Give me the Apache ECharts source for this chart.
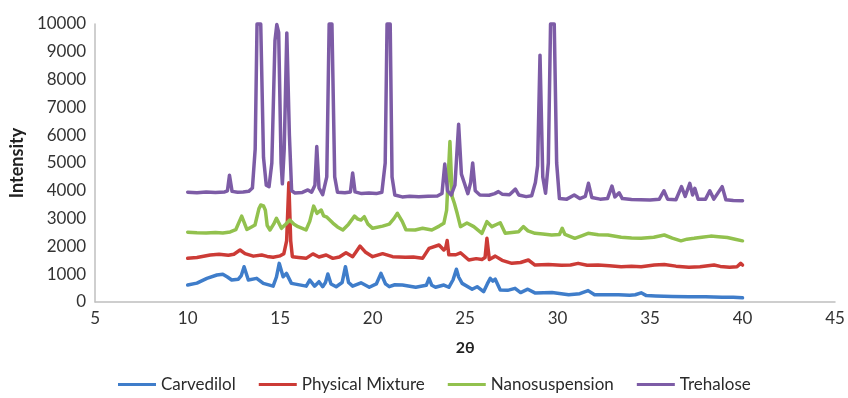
<!DOCTYPE html>
<html>
<head>
<meta charset="utf-8">
<script src="https://cdn.jsdelivr.net/npm/echarts@6/dist/echarts.min.js"></script>
<style>
  html, body { margin: 0; padding: 0; background: #fff; }
  #chart { width: 848px; height: 398px; }
</style>
</head>
<body>
<div id="chart"></div>
<script>
// series names (legend order)
const seriesNames = ['Carvedilol', 'Physical Mixture', 'Nanosuspension', 'Trehalose'];
const seriesColors = ['#3f7dca', '#cc3b36', '#92c14e', '#7d5ca6'];

// [2θ, intensity]
const carvedilol = [
  [10,610],[10.5,680],[11.04,850],[11.58,970],[11.9,1000],[12.15,900],[12.38,790],[12.74,820],[12.9,950],[13.05,1270],
  [13.28,790],[13.73,850],[14.09,670],[14.62,570],[14.8,900],[14.95,1390],[15.16,910],[15.34,1030],[15.61,670],[16.41,570],
  [16.6,790],[16.86,570],[17.1,730],[17.3,550],[17.45,700],[17.58,1010],[17.75,650],[18.03,550],[18.35,700],[18.53,1270],
  [18.7,700],[18.92,570],[19.37,690],[19.82,530],[20.2,650],[20.45,1030],[20.7,650],[20.9,550],[21.2,620],[21.61,610],
  [22.33,530],[22.9,600],[23.05,850],[23.2,600],[23.4,530],[23.85,610],[24.12,530],[24.35,800],[24.53,1180],[24.65,900],
  [24.84,670],[25.38,460],[25.65,550],[26.0,370],[26.2,650],[26.36,850],[26.5,750],[26.63,820],[26.9,430],[27.3,420],
  [27.7,490],[28.0,340],[28.39,460],[28.8,320],[29.7,340],[30.6,260],[31.2,300],[31.65,410],[32.0,260],[33.3,260],
  [33.9,240],[34.2,260],[34.52,330],[34.8,230],[35.3,220],[36.2,200],[37.1,190],[38.0,190],[38.9,170],[39.5,170],[40,150]
];
const physicalMixture = [
  [10,1570],[10.5,1600],[11.22,1690],[11.7,1720],[12.2,1680],[12.5,1720],[12.83,1870],[13.1,1740],[13.55,1650],[14.0,1690],
  [14.3,1640],[14.62,1610],[15.0,1660],[15.2,1740],[15.35,2200],[15.47,4290],[15.57,2200],[15.66,1630],[16.0,1600],[16.4,1570],
  [16.77,1730],[17.1,1620],[17.49,1690],[17.85,1570],[18.2,1620],[18.56,1770],[18.92,1630],[19.1,1800],[19.32,2010],[19.6,1800],
  [20.0,1630],[20.54,1740],[21.08,1630],[21.77,1610],[22.2,1620],[22.7,1570],[23.05,1930],[23.59,2050],[23.85,1870],[23.95,1950],
  [24.03,2210],[24.12,1700],[24.21,1630],[24.5,1700],[24.75,1770],[25.2,1510],[25.6,1560],[25.91,1530],[26.08,1600],[26.18,2290],
  [26.31,1530],[26.63,1650],[27.0,1500],[27.53,1390],[28.0,1420],[28.42,1510],[28.78,1330],[29.5,1350],[30.2,1320],[30.7,1330],
  [31.11,1390],[31.6,1320],[32.19,1330],[32.8,1300],[33.44,1270],[34.0,1290],[34.52,1270],[35.23,1330],[35.77,1350],[36.4,1290],
  [37.1,1250],[37.7,1270],[38.46,1330],[38.8,1280],[39.3,1250],[39.7,1270],[39.9,1390],[40,1330]
];
const nanosuspension = [
  [10,2510],[10.5,2490],[11,2480],[11.5,2500],[11.9,2480],[12.3,2520],[12.6,2600],[12.92,3090],[13.2,2610],[13.45,2700],
  [13.64,2770],[13.85,3350],[13.95,3490],[14.1,3460],[14.2,3300],[14.3,2750],[14.45,2590],[14.65,2800],[14.8,3010],[15.07,2650],
  [15.3,2800],[15.52,2950],[15.75,2800],[15.97,2710],[16.2,2650],[16.4,2590],[16.6,2900],[16.81,3450],[16.99,3190],[17.22,3310],
  [17.35,3100],[17.53,3050],[17.85,2840],[18.1,2700],[18.39,2590],[18.7,2800],[19.02,3090],[19.2,2980],[19.37,2950],[19.55,3070],
  [19.75,2800],[20.0,2650],[20.54,2730],[20.9,2800],[21.15,3000],[21.34,3190],[21.6,2900],[21.8,2600],[22.3,2590],[22.7,2650],
  [23.2,2590],[23.6,2730],[23.85,2830],[24.0,3300],[24.18,5770],[24.3,3790],[24.42,3550],[24.57,3190],[24.75,2710],[25.1,2840],
  [25.47,2710],[25.91,2470],[26.18,2890],[26.45,2710],[26.9,2850],[27.17,2470],[27.89,2530],[28.15,2710],[28.4,2560],[28.78,2470],
  [29.2,2450],[29.68,2410],[30.1,2430],[30.25,2650],[30.4,2430],[30.93,2290],[31.3,2380],[31.65,2470],[32.2,2420],[32.72,2410],
  [33.44,2330],[34.0,2300],[34.52,2290],[35.2,2330],[35.77,2410],[36.2,2300],[36.67,2200],[37.0,2260],[37.38,2290],[37.8,2330],
  [38.28,2370],[38.7,2350],[39.18,2320],[39.6,2260],[40,2200]
];
const trehalose = [
  [10,3950],[10.5,3930],[11.0,3960],[11.5,3940],[12.0,3960],[12.15,4000],[12.26,4560],[12.4,3980],[12.7,3950],[13.0,3960],
  [13.3,3980],[13.5,4100],[13.65,5500],[13.75,10000],[13.95,10000],[14.1,5200],[14.25,4200],[14.4,4150],[14.55,5000],[14.72,9400],
  [14.82,9980],[14.92,9700],[15.05,5000],[15.12,4250],[15.22,5500],[15.36,9680],[15.5,6000],[15.62,4000],[15.8,3920],[16.2,3940],
  [16.5,4030],[16.7,3950],[16.88,4200],[16.98,5590],[17.1,4100],[17.3,3860],[17.52,4500],[17.65,10000],[17.8,10000],[17.95,4500],
  [18.1,3950],[18.5,3930],[18.8,3960],[18.92,4640],[19.05,3960],[19.4,3900],[19.8,3920],[20.2,3900],[20.5,3950],[20.68,5000],
  [20.78,10000],[20.95,10000],[21.05,4500],[21.2,3850],[21.6,3780],[22.0,3800],[22.5,3790],[23.0,3800],[23.5,3810],[23.75,3900],
  [23.9,4960],[24.05,4000],[24.25,3850],[24.45,4200],[24.65,6390],[24.8,4600],[24.95,4300],[25.15,3900],[25.3,4300],[25.41,5000],
  [25.55,4000],[25.8,3850],[26.3,3840],[26.6,3900],[26.8,3970],[27.0,3880],[27.4,3860],[27.72,4060],[27.9,3850],[28.3,3790],
  [28.6,3820],[28.8,4300],[28.92,4900],[29.05,8880],[29.2,4500],[29.35,3910],[29.5,5000],[29.62,10000],[29.82,10000],[29.95,5000],
  [30.1,3720],[30.5,3700],[30.9,3850],[31.2,3720],[31.5,3800],[31.67,4270],[31.85,3760],[32.3,3700],[32.7,3720],[32.94,4170],
  [33.1,3780],[33.33,3930],[33.5,3720],[34.0,3690],[34.5,3680],[35.0,3670],[35.5,3700],[35.75,4000],[35.95,3700],[36.4,3680],
  [36.7,4150],[36.9,3800],[37.15,4270],[37.3,3850],[37.42,4090],[37.6,3700],[38.0,3700],[38.23,4000],[38.45,3700],[38.9,4150],
  [39.1,3680],[39.5,3650],[40,3640]
];
const seriesData = [carvedilol, physicalMixture, nanosuspension, trehalose];

const chart = echarts.init(document.getElementById('chart'));
const font = 'Lato, "Liberation Sans", sans-serif';

chart.setOption({
  animation: false,
  grid: { left: 91, right: 13, top: 24, bottom: 96 },
  legend: {
    data: seriesNames,
    top: 371,
    left: 113,
    icon: 'rect',
    itemWidth: 38,
    itemHeight: 3,
    itemGap: 23,
    textStyle: { fontFamily: font, fontSize: 17, color: '#2b2b2b' }
  },
  xAxis: {
    type: 'value',
    min: 5, max: 45, interval: 5,
    name: '2θ',
    nameLocation: 'middle',
    nameGap: 38,
    nameTextStyle: { fontFamily: font, fontSize: 16, fontWeight: 'bold', color: '#222' },
    axisLine: { lineStyle: { color: '#bfbfbf', width: 1.5 } },
    axisTick: { show: false },
    splitLine: { show: false },
    axisLabel: { fontFamily: font, fontSize: 17, color: '#333', margin: 8 }
  },
  yAxis: {
    type: 'value',
    min: 0, max: 10000, interval: 1000,
    name: 'Intensity',
    nameLocation: 'middle',
    nameGap: 66,
    nameTextStyle: { fontFamily: font, fontSize: 18, fontWeight: 'bold', color: '#222' },
    axisLine: { show: true, lineStyle: { color: '#bfbfbf', width: 1.5 } },
    axisTick: { show: false },
    splitLine: { show: false },
    axisLabel: { fontFamily: font, fontSize: 17, color: '#333', margin: 9, formatter: v => String(v) }
  },
  series: seriesNames.map((name, i) => ({
    name: name,
    type: 'line',
    data: seriesData[i],
    symbol: 'none',
    clip: false,
    color: seriesColors[i],
    lineStyle: { width: 3.5, color: seriesColors[i], cap: 'round', join: 'round' }
  }))
});
</script>
</body>
</html>
